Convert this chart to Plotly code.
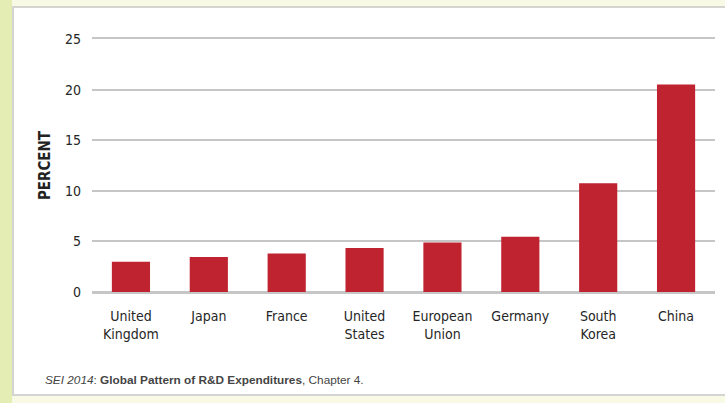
import plotly.graph_objects as go

categories = ["United<br>Kingdom", "Japan", "France", "United<br>States",
              "European<br>Union", "Germany", "South<br>Korea", "China"]
values = [3.0, 3.45, 3.8, 4.35, 4.9, 5.45, 10.75, 20.5]
y_ticks = [0, 5, 10, 15, 20, 25]

FONT = "DejaVu Sans Condensed, Liberation Sans Narrow, sans-serif"
BAR = "#BF2330"
GRID = "#c6c6c6"
TXT = "#262626"

fig = go.Figure(go.Bar(x=categories, y=values, marker=dict(color=BAR, line=dict(width=0)),
                       width=0.49))

W, H = 725, 403
L, R, T, B = 92, 10, 39, 111
pw, ph = W - L - R, H - T - B

def px(x):
    return (x - L) / pw

def py(y):
    return (H - B - y) / ph

fig.update_layout(
    width=W, height=H,
    margin=dict(l=L, r=R, t=T, b=B),
    paper_bgcolor="#f9fae6",
    plot_bgcolor="white",
    showlegend=False,
    font=dict(family=FONT, color=TXT, size=14),
    shapes=[
        dict(type="rect", xref="paper", yref="paper", layer="below",
             x0=px(0), x1=px(12), y0=py(H), y1=py(0),
             fillcolor="#e3edb4", line=dict(width=0)),
        dict(type="rect", xref="paper", yref="paper", layer="below",
             x0=px(13), x1=px(W + 5), y0=py(395), y1=py(7),
             fillcolor="white", line=dict(color="#d4d4d0", width=2)),
    ],
    annotations=[
        dict(xref="paper", yref="paper", x=px(43), y=py(380), xanchor="left", yanchor="middle",
             showarrow=False,
             text="<i>SEI 2014</i>: <b>Global Pattern of R&amp;D Expenditures</b>, Chapter 4.",
             font=dict(family="Liberation Sans, Arial, sans-serif", size=11.8, color="#444444")),
    ],
)

fig.update_xaxes(
    showgrid=False, zeroline=False,
    showline=True, mirror=True, linecolor=GRID, linewidth=1.5,
    tickfont=dict(size=14, color=TXT),
    ticks="", ticklabelstandoff=10,
)
fig.update_yaxes(
    range=[0, 25], tickvals=y_ticks,
    showgrid=True, gridcolor=GRID, gridwidth=1.5,
    zeroline=True, zerolinecolor=GRID, zerolinewidth=1.5,
    showline=False, ticks="",
    ticklabelstandoff=10,
    tickfont=dict(size=14, color=TXT),
    title=dict(text="PERCENT", standoff=10, font=dict(size=15, color="#222222", weight="bold")),
)

fig.write_html("out.html", config={"displayModeBar": False})

with open("out.html", "r", encoding="utf-8") as f:
    html = f.read()
html = html.replace("<body>", '<body style="margin:0;padding:0;">', 1)
html = html.replace("<head>", '<head><style>html,body{margin:0;padding:0;overflow:hidden;}</style>', 1)
with open("out.html", "w", encoding="utf-8") as f:
    f.write(html)
